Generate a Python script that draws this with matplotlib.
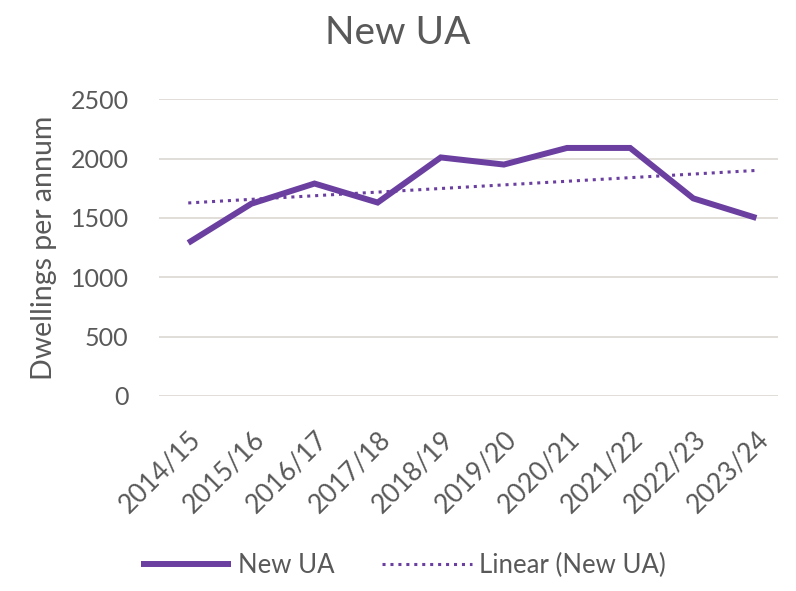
import matplotlib
matplotlib.use("Agg")
import matplotlib.pyplot as plt
import numpy as np

years = ["2014/15", "2015/16", "2016/17", "2017/18", "2018/19",
         "2019/20", "2020/21", "2021/22", "2022/23", "2023/24"]
new_ua = [1290, 1620, 1790, 1630, 2010, 1950, 2090, 2090, 1665, 1500]
y_ticks = [0, 500, 1000, 1500, 2000, 2500]

plt.rcParams['font.family'] = ['Lato', 'DejaVu Sans']
text_col = '#595959'
purple = '#6a3fa0'

fig = plt.figure(figsize=(7.96, 5.91), dpi=100)
ax = fig.add_axes([0.200, 0.330, 0.778, 0.502])

x = np.arange(len(years))
ax.plot(x, new_ua, color=purple, lw=4.3, solid_capstyle='butt',
        solid_joinstyle='miter', label='New UA', zorder=3)
coef = np.polyfit(x, new_ua, 1)
trend = np.polyval(coef, x)
ax.plot(x, trend, color=purple, lw=2.2, linestyle=(0, (1, 1.6)),
        label='Linear (New UA)', zorder=2)

ax.set_ylim(0, 2500)
ax.set_yticks(y_ticks)
ax.set_xlim(-0.46, 9.35)
ax.set_xticks(x)
ax.set_xticklabels(years, rotation=45, ha='right', va='top',
                   rotation_mode='anchor', fontsize=19, color=text_col)
ax.tick_params(axis='x', length=0, pad=22)
ax.tick_params(axis='y', length=0, pad=22, labelsize=18, labelcolor=text_col)
ax.grid(axis='y', color='#d9d4cf', lw=1.1)
for s in ax.spines.values():
    s.set_visible(False)
ax.set_axisbelow(True)

ax.set_ylabel('Dwellings per annum', fontsize=20.5, color=text_col, labelpad=10)
fig.text(0.5, 0.945, 'New UA', ha='center', va='center', fontsize=28,
         color=text_col)

leg = fig.legend(loc='center', bbox_to_anchor=(0.507, 0.044), ncol=2,
                 frameon=False, fontsize=18.5, handlelength=3.5,
                 columnspacing=1.87, handletextpad=0.27)
for t in leg.get_texts():
    t.set_color(text_col)

fig.savefig('out.png', dpi=100, facecolor='white')
